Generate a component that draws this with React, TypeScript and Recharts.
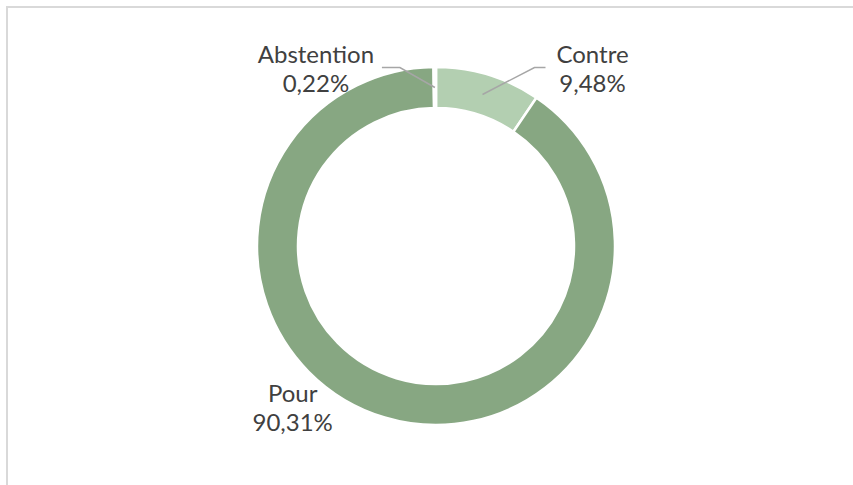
import { PieChart, Pie, Cell } from 'recharts';

const categories = ['Contre', 'Pour', 'Abstention'];
const shares = [9.48, 90.31, 0.22];
const shareLabels = ['9,48%', '90,31%', '0,22%'];

const COLORS = ['#B3CFB1', '#87A782', '#5E7E59'];

// where each label sits relative to the slice (leader line elbow + text)
const LABEL_LAYOUT: Record<string, { dx: number; dy: number; len: number; leader: boolean; textDx: number; textDy: number }> = {
  Contre: { dx: 52, dy: -27, len: 11, leader: true, textDx: 47, textDy: 1 },
  Abstention: { dx: -35, dy: -20, len: -18, leader: true, textDx: -66, textDy: 0 },
  Pour: { dx: 0, dy: 0, len: 0, leader: false, textDx: -92, textDy: -10 },
};

const data = categories.map((name, i) => ({ name, value: shares[i], text: shareLabels[i] }));

const RAD = Math.PI / 180;

function renderLabel(props: any) {
  const { cx, cy, midAngle, innerRadius, outerRadius, payload } = props;
  const name = payload.name as string;
  const lay = LABEL_LAYOUT[name];
  const mid = (innerRadius + outerRadius) / 2;
  const r = lay.leader ? mid : outerRadius;
  const sx = cx + r * Math.cos(-midAngle * RAD);
  const sy = cy + r * Math.sin(-midAngle * RAD);
  const ex = sx + lay.dx;
  const ey = sy + lay.dy;
  const tx = ex + lay.len + lay.textDx;
  const ty = ey + lay.textDy;
  return (
    <g>
      {lay.leader && (
        <polyline
          points={`${sx},${sy} ${ex},${ey} ${ex + lay.len},${ey}`}
          fill="none"
          stroke="#A6A6A6"
          strokeWidth={1.5}
        />
      )}
      <text x={tx} y={ty - 5} textAnchor="middle" fill="#404040" fontSize={24} fontFamily="Lato, sans-serif">
        {name}
      </text>
      <text x={tx} y={ty + 24} textAnchor="middle" fill="#404040" fontSize={24} fontFamily="Lato, sans-serif">
        {payload.text}
      </text>
    </g>
  );
}

export default function App() {
  return (
    <div style={{ position: 'absolute', left: 0, top: 0, width: 853, height: 485, overflow: 'hidden', background: '#fff' }}>
      <div
        style={{
          position: 'absolute',
          left: 6,
          top: 6,
          width: 900,
          height: 600,
          border: '2px solid #D9D9D9',
          boxSizing: 'border-box',
        }}
      />
      <div style={{ position: 'absolute', left: 0, top: 0 }}>
        <PieChart width={853} height={485} margin={{ top: 0, right: 0, bottom: 0, left: 0 }}>
          <Pie
            data={data}
            dataKey="value"
            nameKey="name"
            cx={436}
            cy={246}
            innerRadius={138}
            outerRadius={179}
            startAngle={90}
            endAngle={-270}
            stroke="#FFFFFF"
            strokeWidth={2.5}
            label={renderLabel}
            labelLine={false}
            isAnimationActive={false}
          >
            {data.map((d, i) => (
              <Cell key={d.name} fill={COLORS[i]} />
            ))}
          </Pie>
        </PieChart>
      </div>
    </div>
  );
}
